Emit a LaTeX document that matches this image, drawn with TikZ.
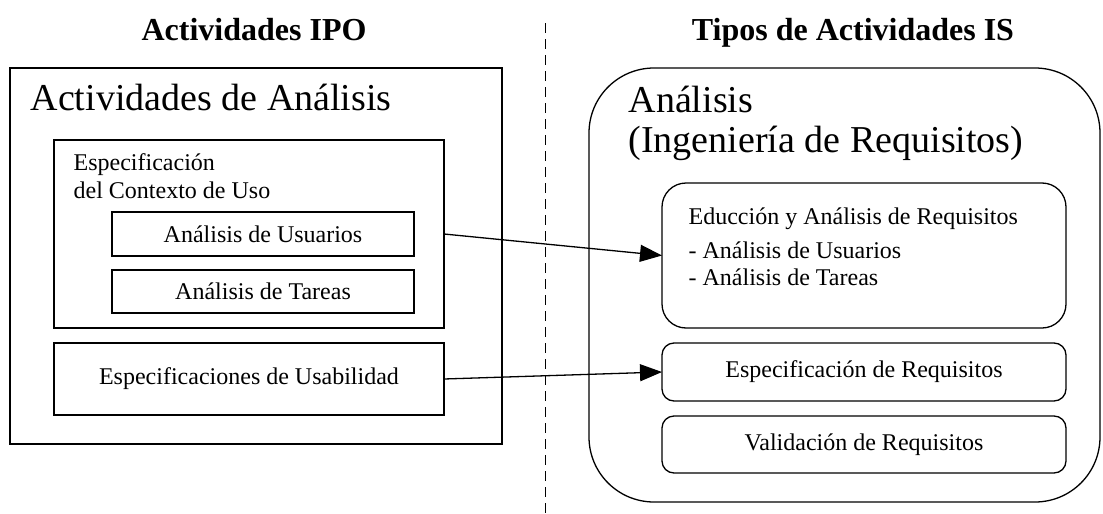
\documentclass[tikz,border=0pt]{standalone}
\usepackage{fontspec}
\setmainfont{Liberation Serif}
\usetikzlibrary{arrows.meta}
\begin{document}
\begin{tikzpicture}[x=1pt,y=-1pt,line width=1.3pt,
  caja/.style={draw,inner sep=0pt,outer sep=0pt,font=\fontsize{24}{28}\selectfont},
  flecha/.style={-{Triangle[length=22pt,width=17pt]}},
  txt/.style={inner sep=0pt,anchor=base west,font=\fontsize{24}{28}\selectfont},
  grande/.style={inner sep=0pt,anchor=base west,font=\fontsize{38}{40}\selectfont},
  titulo/.style={inner sep=0pt,anchor=base,font=\fontsize{32}{36}\selectfont\bfseries}]
\useasboundingbox (0,0) rectangle (1103,514);
% titulos
\node[titulo] (tipo) at (254,40) {Actividades IPO};
\node[titulo] (tis) at (853,40) {Tipos de Actividades IS};
\coordinate (sepa) at (545,23);
\coordinate (sepb) at (545,514);
\draw[dash pattern=on 10pt off 6pt,line width=1pt] (sepa) -- (sepb);
% lado IPO
\node[caja,minimum width=492pt,minimum height=376pt] (ana) at (256,256) {};
\node[grande] (anat) at (30,110) {Actividades de Análisis};
\node[caja,minimum width=390pt,minimum height=188pt] (ctx) at (249,234) {};
\node[txt] (ctx1) at (73,170) {Especificación};
\node[txt] (ctx2) at (73,198) {del Contexto de Uso};
\node[caja,minimum width=302pt,minimum height=44pt] (usu) at (263,234) {Análisis de Usuarios};
\node[caja,minimum width=302pt,minimum height=43pt] (tar) at (263,291.5) {Análisis de Tareas};
\node[caja,minimum width=390pt,minimum height=72pt] (usab) at (249,379) {Especificaciones de Usabilidad};
% lado IS
\node[caja,rounded corners=65pt,minimum width=511pt,minimum height=434pt] (is) at (844.5,285) {};
\node[grande] (ist1) at (628,112) {Análisis};
\node[grande] (ist2) at (628,152) {(Ingeniería de Requisitos)};
\node[caja,rounded corners=24pt,minimum width=404pt,minimum height=145pt] (educ) at (864,255.5) {};
\node[txt] (edu1) at (688,224) {Educción y Análisis de Requisitos};
\node[txt] (edu2) at (688,258) {- Análisis de Usuarios};
\node[txt] (edu3) at (688,285) {- Análisis de Tareas};
\node[caja,rounded corners=12pt,minimum width=404pt,minimum height=58pt] (espec) at (864,372) {Especificación de Requisitos};
\node[caja,rounded corners=12pt,minimum width=404pt,minimum height=57pt] (valid) at (864,444.5) {Validación de Requisitos};
% flechas
\draw[flecha] (ctx.east |- usu.east) -- (educ.west);
\draw[flecha] (usab.east) -- (espec.west);
\end{tikzpicture}
\end{document}
